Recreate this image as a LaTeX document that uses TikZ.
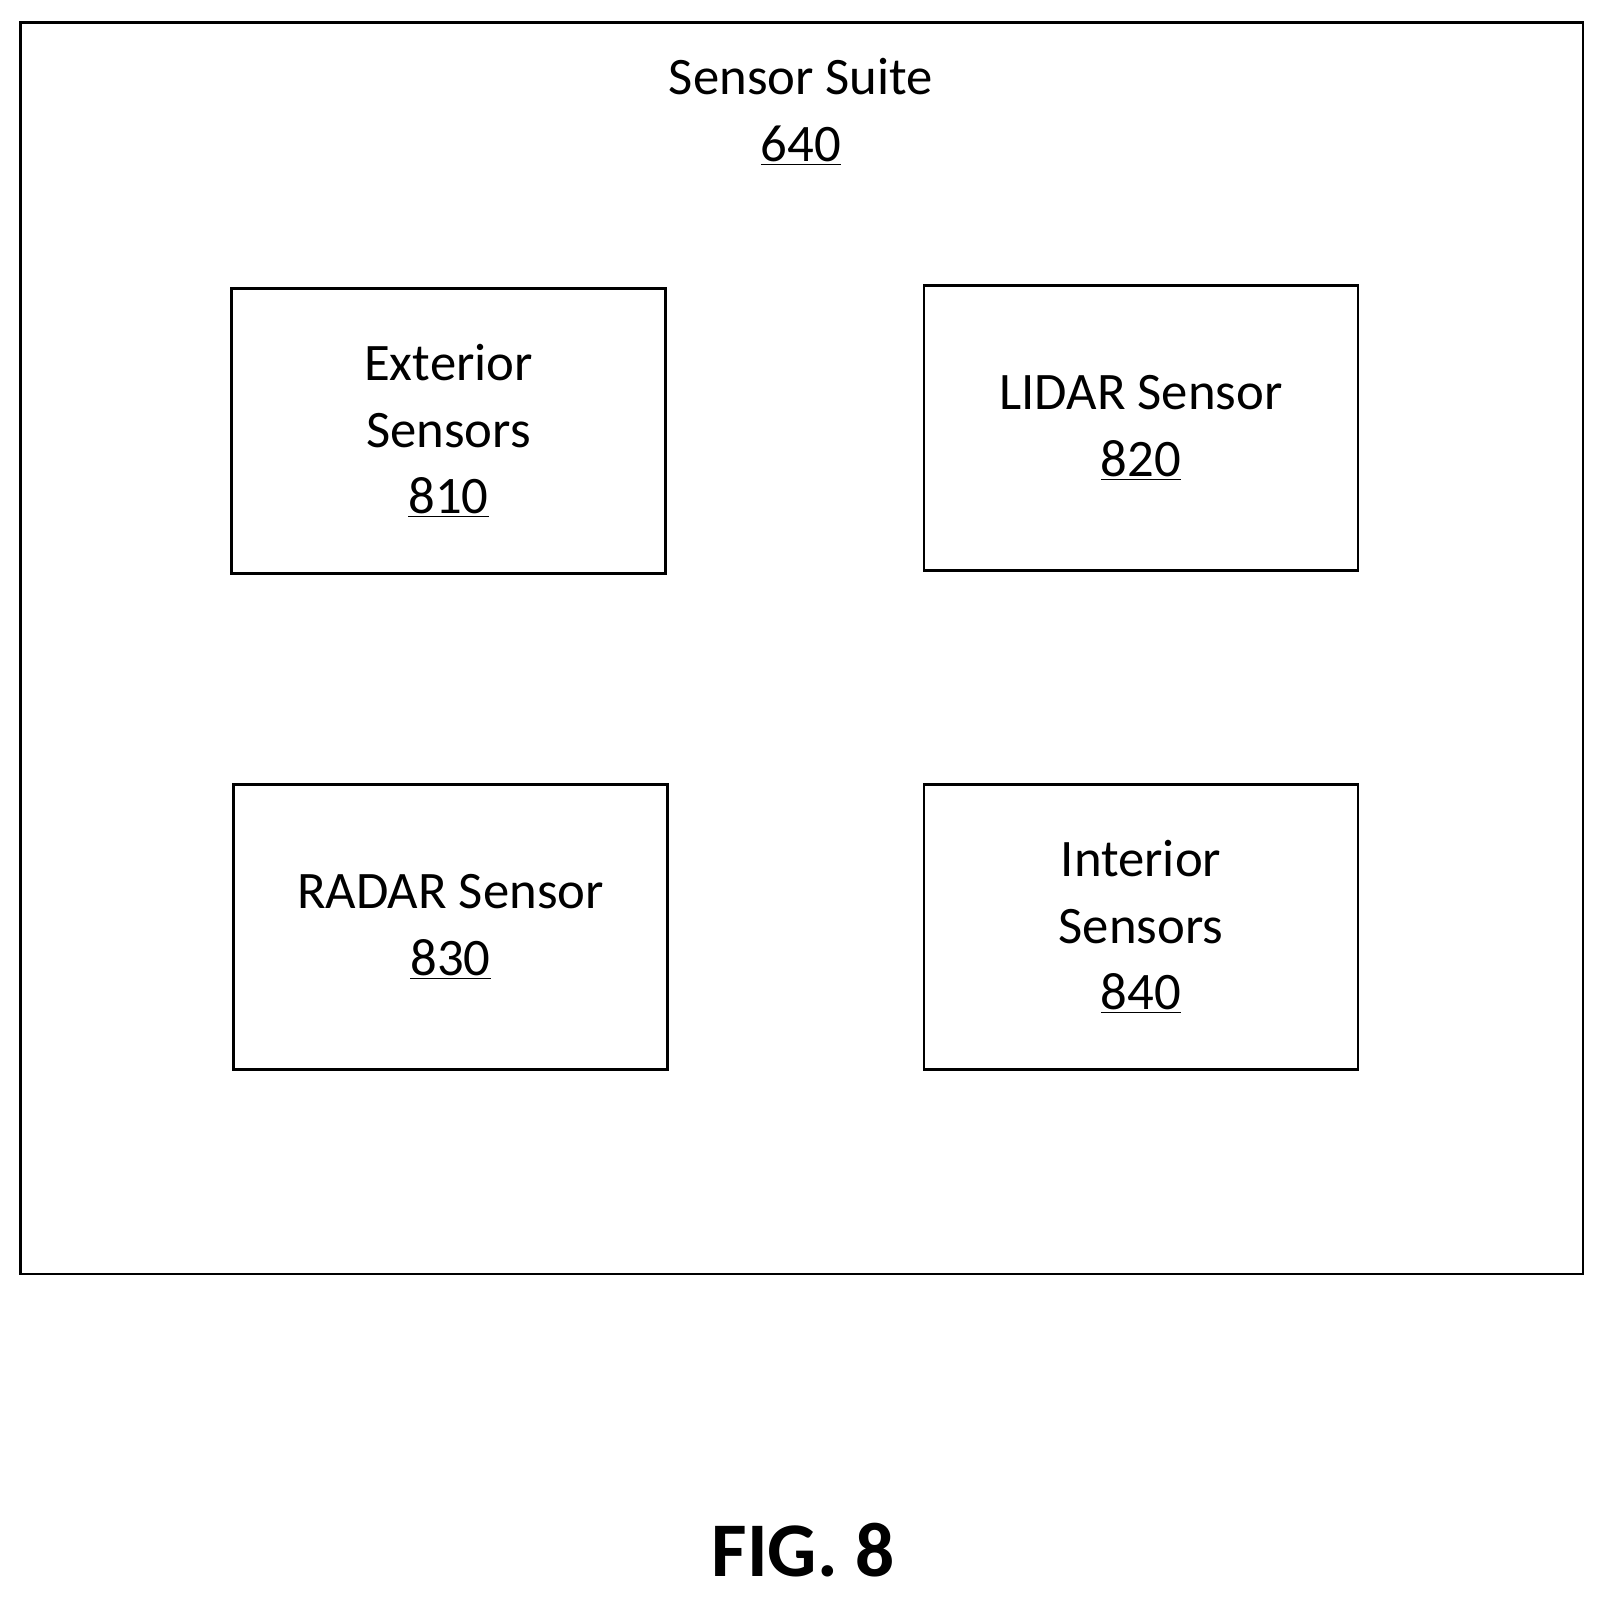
\documentclass[tikz,border=0pt]{standalone}
\usepackage{fontspec}
\setmainfont{Carlito}
\usetikzlibrary{positioning}
\tikzset{
  sensor/.style={draw, line width=1.6pt, minimum width=8.68cm, minimum height=5.7cm, align=center, font=\fontsize{30}{38}\selectfont},
  num/.style={}
}
\newcommand{\refnum}[1]{\underline{#1}}
\begin{document}
\begin{tikzpicture}[x=0.02cm, y=-0.02cm]
    \useasboundingbox (0,0) rectangle (1604,1602);
    % Sensor suite frame
    \draw[line width=1.6pt] (20.5,22.5) rectangle (1583,1274);
    \node[align=center, font=\fontsize{30}{38}\selectfont] (suite) at (801,112) {Sensor Suite\\\refnum{640}};
    
    % Sensors
    \node[sensor] (ext) at (448.5,431) {Exterior\\Sensors\\\refnum{810}};
    \node[sensor] (lidar) at (1141,428) {LIDAR Sensor\\\refnum{820}};
    \node[sensor] (radar) at (450.5,927) {RADAR Sensor\\\refnum{830}};
    \node[sensor] (int) at (1141,927) {Interior\\Sensors\\\refnum{840}};
    
    % Caption
    \node[font=\fontsize{44}{52}\selectfont\bfseries] (fig) at (803,1550) {FIG. 8};
\end{tikzpicture}
\end{document}
